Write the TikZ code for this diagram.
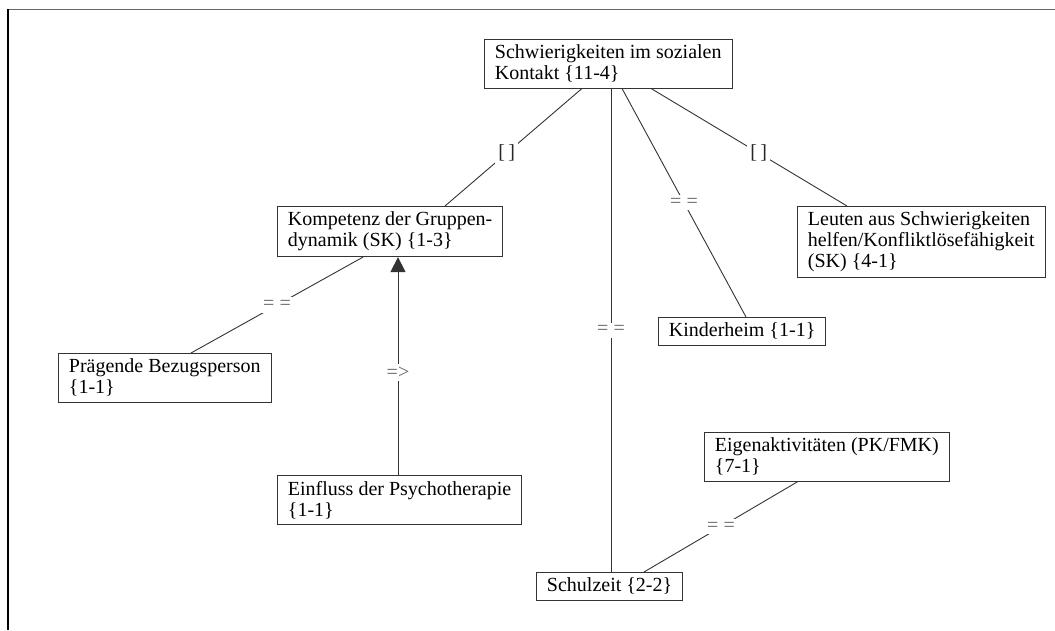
\documentclass[tikz,border=0pt]{standalone}
\usepackage{fontspec}
\setmainfont{Liberation Serif}
\usetikzlibrary{arrows.meta}

\begin{document}
\begin{tikzpicture}[x=1pt, y=-1pt,
  every node/.style={font=\fontsize{20}{21}\selectfont},
  kat/.style={draw=black!80, line width=0.9pt, align=left, anchor=north west,
    inner xsep=10.5pt, inner ysep=5.5pt, fill=white},
  lab/.style={fill=white, text=black!60, inner sep=3pt},
  every edge/.style={draw, black!80, line width=0.9pt}]
 \useasboundingbox (0,0) rectangle (1055,630);
 \draw [black!60, line width=1.6pt] (8,9.5) -- (1055,9.5);
 \draw [black, line width=1.6pt] (8,9) -- (8,630);

 \node [kat] (top) at (484,39) {Schwierigkeiten im sozialen\\Kontakt \{11-4\}};
 \node [kat] (komp) at (277,206) {Kompetenz der Gruppen-\\dynamik (SK) \{1-3\}};
 \node [kat] (leut) at (797,206) {Leuten aus Schwierigkeiten\\helfen/Konfliktlösefähigkeit\\(SK) \{4-1\}};
 \node [kat] (kind) at (658,317) {Kinderheim \{1-1\}};
 \node [kat] (praeg) at (58,353) {Prägende Bezugsperson\\\{1-1\}};
 \node [kat] (eigen) at (704,432) {Eigenaktivitäten (PK/FMK)\\\{7-1\}};
 \node [kat] (einf) at (277,475) {Einfluss der Psychotherapie\\\{1-1\}};
 \node [kat] (schul) at (536,572) {Schulzeit \{2-2\}};

 \draw ([xshift=98pt]top.south west) edge node [lab, pos=0.55, text=black!85] {[\,]} ([xshift=168pt]komp.north west);
 \draw ([xshift=127pt]top.south west) edge node [lab] {= =} ([xshift=75pt]schul.north west);
 \draw ([xshift=138pt]top.south west) edge node [lab] {= =} ([xshift=88pt]kind.north west);
 \draw ([xshift=167pt]top.south west) edge node [lab, pos=0.55, text=black!85] {[\,]} ([xshift=50pt]leut.north west);

 \draw ([xshift=86pt]komp.south west) edge node [lab] {= =} ([xshift=133pt]praeg.north west);
 \draw ([xshift=121pt]einf.north west) edge [-{Triangle[length=15pt,width=15pt]}] node [lab, pos=0.47] {=>} ([xshift=121pt]komp.south west);

 \draw ([xshift=94pt]eigen.south west) edge node [lab] {= =} ([xshift=108pt]schul.north west);
\end{tikzpicture}
\end{document}
